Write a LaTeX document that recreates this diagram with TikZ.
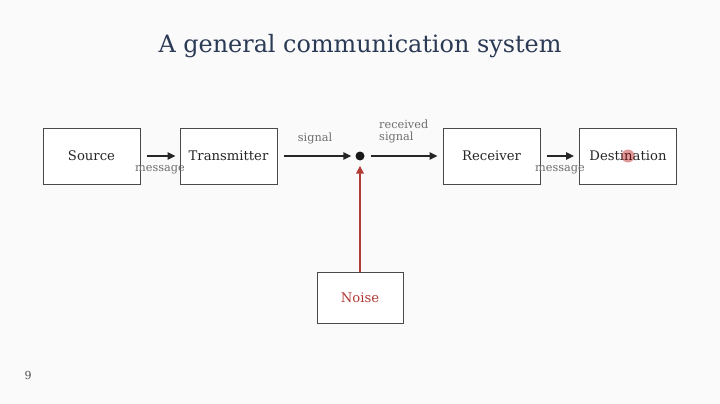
\documentclass[tikz,border=0pt]{standalone}
\usepackage{fontspec}
\setmainfont{DejaVu Serif}
\usetikzlibrary{arrows.meta}
\definecolor{bg}{HTML}{FAFAFA}
\definecolor{titlec}{HTML}{2B3A55}
\definecolor{boxline}{HTML}{4A4A4A}
\definecolor{lblc}{HTML}{6E6E6E}
\definecolor{noisec}{HTML}{B23A35}
\tikzset{
  blk/.style={draw=boxline, line width=1pt, fill=white, minimum width=97pt, minimum height=56pt, inner sep=0pt, font=\fontsize{13.2}{15}\selectfont, text=black!85},
  lbl/.style={font=\fontsize{11.3}{12}\selectfont, text=lblc, inner sep=0pt},
  arr/.style={line width=1.4pt, draw=black!85, -{Triangle[length=8pt,width=7.5pt]}},
  noisearr/.style={line width=1.8pt, color=noisec, -{Triangle[length=8pt,width=7.5pt]}},
}
\begin{document}
\begin{tikzpicture}[x=1pt,y=-1pt]
\fill[bg] (0,0) rectangle (720,404);
\useasboundingbox (0,0) rectangle (720,404);
\node[font=\fontsize{23.9}{28}\selectfont, text=titlec] (title) at (360,46.5) {A general communication system};
\node[blk] (src) at (91.5,156) {\raisebox{-1pt}{Source}};
\node[blk] (tx) at (228.5,156) {\raisebox{-1pt}{Transmitter}};
\node[blk] (rx) at (491.5,156) {\raisebox{-1pt}{Receiver}};
\node[blk] (dst) at (628,156) {\raisebox{-1pt}{Destination}};
\node[blk, minimum width=86pt, minimum height=51pt, text=noisec] (noise) at (360,297.5) {\raisebox{-1pt}{Noise}};
\node[circle, fill=black!90, minimum size=9pt, inner sep=0pt] (dot) at (360,156) {};
\draw[arr] ([xshift=6pt]src.east) -- ([xshift=-4pt]tx.west);
\draw[arr] ([xshift=6pt]tx.east) -- ([xshift=-4pt]dot.west);
\draw[arr] ([xshift=6pt]dot.east) -- ([xshift=-5pt]rx.west);
\draw[arr] ([xshift=6pt]rx.east) -- ([xshift=-5pt]dst.west);
\draw[noisearr] (noise.north) -- ([yshift=-5pt]dot.south);
\node[lbl] (m1) at (160,170) {message};
\node[lbl] (m2) at (560,170) {message};
\node[lbl] (sig) at (315,138.5) {signal};
\node[lbl, align=left, anchor=north west, font=\fontsize{11.3}{12}\selectfont] (rsig) at (379,120) {received\\signal};
\node[font=\fontsize{11}{12}\selectfont, text=black!70] (pg) at (28,375) {9};
\fill[red!70!black, opacity=0.4] (628,156) circle (6.5pt);
\end{tikzpicture}
\end{document}
